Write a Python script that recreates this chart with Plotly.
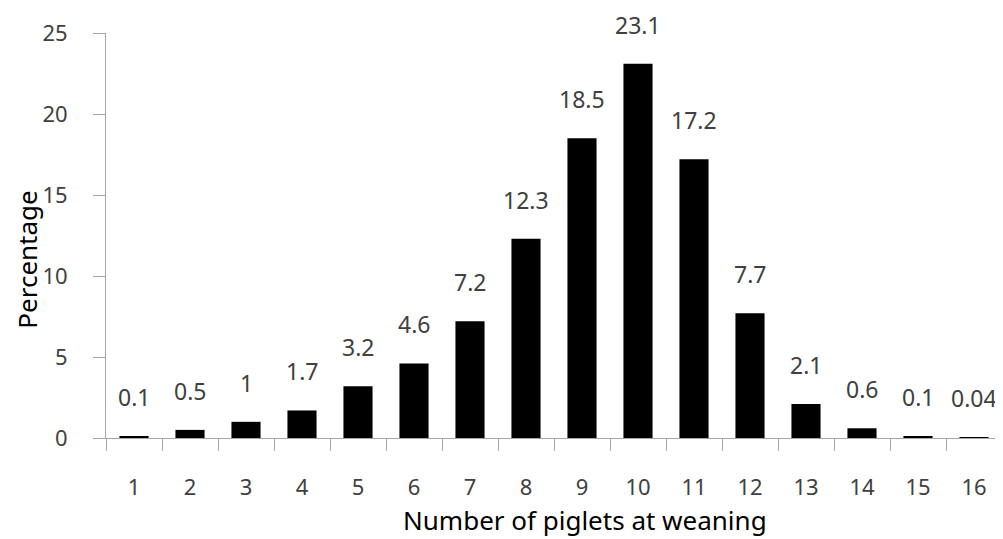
import plotly.graph_objects as go

categories = [str(i) for i in range(1, 17)]
values = [0.1, 0.5, 1, 1.7, 3.2, 4.6, 7.2, 12.3, 18.5, 23.1, 17.2, 7.7, 2.1, 0.6, 0.1, 0.04]
labels = ["0.1", "0.5", "1", "1.7", "3.2", "4.6", "7.2", "12.3", "18.5", "23.1", "17.2", "7.7", "2.1", "0.6", "0.1", "0.04"]
y_ticks = [0, 5, 10, 15, 20, 25]
x_title = "Number of piglets at weaning"
y_title = "Percentage"

FONT = "Noto Sans"
fig = go.Figure()
fig.add_trace(go.Bar(x=categories, y=values, marker=dict(color="black", line=dict(width=0)),
                     width=0.52))

for i, (v, t) in enumerate(zip(values, labels)):
    fig.add_annotation(x=i, y=v, text=t, showarrow=False, yanchor="bottom", yshift=21,
                       font=dict(family=FONT, size=23, color="#404040"))

fig.add_annotation(xref="paper", yref="paper", x=0.5346, y=-0.2025, text=x_title,
                   showarrow=False, xanchor="center", yanchor="middle",
                   font=dict(family=FONT, size=26, color="black"))
fig.add_annotation(xref="paper", yref="paper", x=-0.0885, y=0.4395, text=y_title,
                   showarrow=False, xanchor="center", yanchor="middle", textangle=-90,
                   borderpad=0,
                   font=dict(family=FONT, size=26, color="black"))

fig.update_layout(
    width=995, height=531,
    margin=dict(l=98, r=1, t=25, b=101),
    paper_bgcolor="white", plot_bgcolor="white",
    showlegend=False,
    font=dict(family=FONT, size=22, color="#404040"),
    xaxis=dict(
        type="category", tickson="boundaries", ticks="outside", ticklen=12, tickcolor="#a6a6a6",
        showline=True, linecolor="#a6a6a6", linewidth=1, showgrid=False, automargin=False,
        ticklabelstandoff=30,
        tickfont=dict(family=FONT, size=22, color="#404040"),
    ),
    yaxis=dict(
        range=[0, 25], tickvals=y_ticks, ticks="outside", ticklen=12, tickcolor="#a6a6a6",
        showline=True, linecolor="#a6a6a6", linewidth=1, showgrid=False, zeroline=False,
        automargin=False, ticklabelstandoff=21,
        tickfont=dict(family=FONT, size=22, color="#404040"),
    ),
)

fig.write_html("out.html")
